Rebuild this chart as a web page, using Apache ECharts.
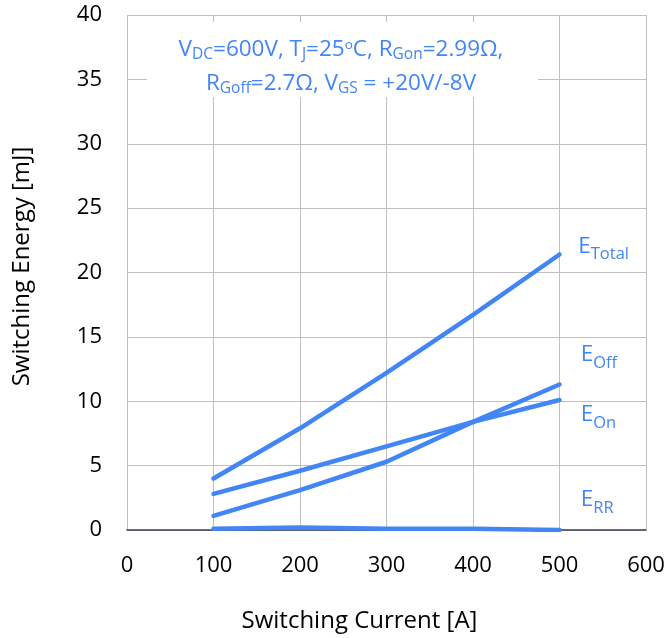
<!DOCTYPE html>
<html>
<head>
<meta charset="utf-8">
<script src="https://cdn.jsdelivr.net/npm/echarts@6/dist/echarts.min.js"></script>
<style>
  html, body { margin: 0; padding: 0; background: #fff; }
  #chart { width: 669px; height: 638px; }
</style>
</head>
<body>
<div id="chart"></div>
<script>
// Switching current [A]
const currents = [100, 200, 300, 400, 500];
// Switching energies [mJ]
const eTotal = [4.0, 7.9, 12.2, 16.7, 21.4];
const eOff   = [1.1, 3.1, 5.3, 8.4, 11.3];
const eOn    = [2.8, 4.6, 6.5, 8.4, 10.1];
const eRR    = [0.1, 0.2, 0.1, 0.1, 0.0];
// Curve tag subscripts
const tagNames = ['Total', 'Off', 'On', 'RR'];

const BLUE = '#4285F4';
const FONT = '"Open Sans", Lato, sans-serif';

const pairs = ys => currents.map((x, i) => [x, ys[i]]);

const chart = echarts.init(document.getElementById('chart'));

function lineSeries(name, ys) {
  return {
    name, type: 'line', data: pairs(ys),
    showSymbol: false, smooth: false,
    lineStyle: { color: BLUE, width: 4.5, cap: 'round', join: 'round' },
    itemStyle: { color: BLUE },
    z: 3
  };
}

chart.setOption({
  animation: false,
  backgroundColor: '#fff',
  grid: { left: 127, right: 23, top: 15, bottom: 108, containLabel: false },
  xAxis: {
    type: 'value', min: 0, max: 600, interval: 100,
    name: 'Switching Current [A]', nameLocation: 'middle', nameGap: 79,
    nameTextStyle: { fontSize: 24, color: '#000', fontFamily: FONT, padding: [0, 54, 0, 0] },
    axisLine: { show: true, lineStyle: { color: '#3b3b50', width: 1.5 } },
    axisTick: { show: false },
    axisLabel: { fontSize: 22, color: '#000', fontFamily: FONT, margin: 25 },
    splitLine: { show: true, lineStyle: { color: '#BFBFBF', width: 1 } }
  },
  yAxis: {
    type: 'value', min: 0, max: 40, interval: 5,
    name: 'Switching Energy [mJ]', nameLocation: 'middle', nameGap: 93,
    nameTextStyle: { fontSize: 24, color: '#000', fontFamily: FONT, padding: [0, 0, 0, 12] },
    axisLine: { show: false },
    axisTick: { show: false },
    axisLabel: { fontSize: 22, color: '#000', fontFamily: FONT, margin: 25 },
    splitLine: { show: true, lineStyle: { color: '#BFBFBF', width: 1 } }
  },
  series: [
    lineSeries('E_Total', eTotal),
    lineSeries('E_Off', eOff),
    lineSeries('E_On', eOn),
    lineSeries('E_RR', eRR)
  ]
});

// Rich-text styles. Main glyphs hang from the line top; the taller
// subscript line box centres its glyphs lower, giving the drop.
const noteRich = {
  m:   { fontSize: 22.5, lineHeight: 15, fill: BLUE, fontFamily: FONT, verticalAlign: 'top' },
  s:   { fontSize: 15.5, lineHeight: 34, fill: BLUE, fontFamily: FONT, verticalAlign: 'middle' },
  sup: { fontSize: 13.5, lineHeight: 10, fill: BLUE, fontFamily: FONT, verticalAlign: 'top' }
};
const tagRich = {
  m: { fontSize: 22.5, lineHeight: 18, fill: BLUE, fontFamily: FONT, verticalAlign: 'top' },
  s: { fontSize: 16.5, lineHeight: 40, fill: BLUE, fontFamily: FONT, verticalAlign: 'middle' }
};

// Test-condition note on a white panel, and the curve tags beside the line ends
function drawAnnotations() {
  const px = p => chart.convertToPixel({ gridIndex: 0 }, p);

  const tagAt = [[521.7, 22.94], [524.5, 14.48], [524.5, 9.82], [524.5, 3.22]];
  const tags = tagNames.map((t, i) => {
    const p = px(tagAt[i]);
    return {
      type: 'text', x: p[0], y: p[1], z: 10,
      style: { text: '{m|E}{s|' + t + '}', rich: tagRich, align: 'left', verticalAlign: 'top' }
    };
  });

  const c1 = px([23.1, 39.46]);
  const c2 = px([475.1, 33.63]);
  const panel = {
    type: 'rect', z: 9, silent: true,
    shape: { x: c1[0], y: c1[1], width: c2[0] - c1[0], height: c2[1] - c1[1] },
    style: { fill: '#fff' }
  };

  const np = px([247.4, 38.24]);
  const note = {
    type: 'text', x: np[0], y: np[1], z: 10,
    style: {
      text:
        '{m|V}{s|DC}{m|=600V, T}{s|J}{m|=25}{sup|o}{m|C, R}{s|Gon}{m|=2.99Ω,}\n' +
        '{m|R}{s|Goff}{m|=2.7Ω, V}{s|GS}{m| = +20V/-8V}',
      rich: noteRich,
      align: 'center', verticalAlign: 'top'
    }
  };

  chart.setOption({ graphic: [panel, note].concat(tags) });
}
drawAnnotations();
</script>
</body>
</html>
